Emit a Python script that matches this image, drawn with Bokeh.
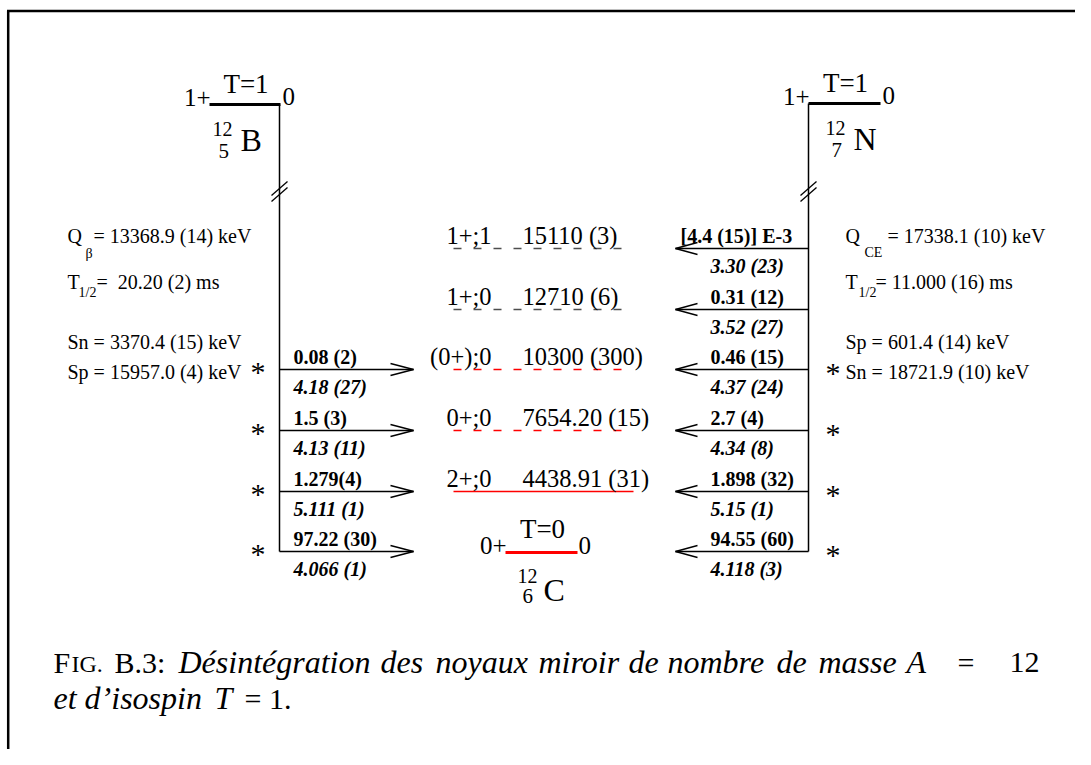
from bokeh.plotting import figure
from bokeh.models import Range1d, ColumnDataSource
from bokeh.core.properties import value
from bokeh.embed import file_html
from bokeh.resources import INLINE

# ---------------- data ----------------
# parent nuclei: spin, isospin, energy, A, Z, symbol
b_parent = ["1+", "T=1", "0", "12", "5", "B"]
n_parent = ["1+", "T=1", "0", "12", "7", "N"]
c_ground = ["0+", "T=0", "0", "12", "6", "C"]

# excited levels of 12C (top -> bottom), ground state last
level_jpi = ["1+;1", "1+;0", "(0+);0", "0+;0", "2+;0"]
level_energy = ["15110 (3)", "12710 (6)", "10300 (300)", "7654.20 (15)", "4438.91 (31)"]
level_kind = ["dash_gray", "dash_gray", "dash_red", "dash_red", "solid_red"]

# 12B beta- branches (feed levels 10300, 7654, 4438, g.s.)
b_branch_level = [2, 3, 4, 5]
b_intensity = ["0.08 (2)", "1.5 (3)", "1.279(4)", "97.22 (30)"]
b_logft = ["4.18 (27)", "4.13 (11)", "5.111 (1)", "4.066 (1)"]

# 12N EC/beta+ branches (feed all levels)
n_branch_level = [0, 1, 2, 3, 4, 5]
n_intensity = ["[4.4 (15)] E-3", "0.31 (12)", "0.46 (15)", "2.7 (4)", "1.898 (32)", "94.55 (60)"]
n_logft = ["3.30 (23)", "3.52 (27)", "4.37 (24)", "4.34 (8)", "5.15 (1)", "4.118 (3)"]

# decay properties
b_info = ["13368.9 (14) keV", "20.20 (2) ms", "Sn = 3370.4 (15) keV", "Sp = 15957.0 (4) keV"]
n_info = ["17338.1 (10) keV", "11.000 (16) ms", "Sp = 601.4 (14) keV", "Sn = 18721.9 (10) keV"]

caption_words = ["Désintégration", "des", "noyaux", "miroir", "de", "nombre", "de", "masse"]
caption_1 = ["F", "IG.", "B.3:", "A", "=", "12"]
caption_2 = ["et d’isospin", "T", "= 1."]

# ---------------- layout ----------------
ROW_Y = [248, 309, 369, 430, 491, 551]   # vertical positions of level rows
FONT = "Liberation Serif"
BLACK = "#000000"
RED = "#ff0000"
GRAY = "#4d4d4d"

p = figure(width=1075, height=749, output_backend="svg", toolbar_location=None,
           x_range=Range1d(0, 1075), y_range=Range1d(749, 0), min_border=0)
p.axis.visible = False
p.grid.visible = False
p.outline_line_color = None
p.background_fill_color = "white"
p.border_fill_color = "white"


def txt(x, b, s, size, style="normal", align="left", color=BLACK):
    """b = alphabetic baseline; converted to a middle anchor."""
    p.text(x=[x], y=[b - 0.34 * size], text=[s], text_font=value(FONT), text_font_size=f"{size}px",
           text_font_style=style, text_align=align, text_baseline="middle", text_color=color)


def seg(x0, y0, x1, y1, w=1.5, color=BLACK, dash="solid"):
    p.segment(x0=[x0], y0=[y0], x1=[x1], y1=[y1], line_width=w, line_color=color, line_dash=dash)


# page frame
seg(6.5, 10.5, 1075, 10.5, w=2.5)
seg(7.7, 10, 7.7, 749, w=2.5)

# ---------------- parent nuclei ----------------
def parent(lx0, lx1, ly, vx, labels, sym_x):
    spin, iso, e, a, z, sym = labels
    seg(lx0, ly, lx1, ly, w=3)
    txt(lx0 + 1, ly + 1, spin, 25, align="right")
    txt(lx1 + 2, ly, e, 25)
    txt((lx0 + lx1) / 2 + 1, ly - 11, iso, 27, align="center")
    txt(sym_x - 28, ly + 31, a, 20)
    txt(sym_x - 22, ly + 54, z, 21)
    txt(sym_x, ly + 46, sym, 32)
    # vertical decay line with break marks
    seg(vx, ly, vx, ROW_Y[-1], w=1.5)
    seg(vx - 8, 201, vx + 8, 187, w=1.3)
    seg(vx - 8, 195, vx + 8, 181, w=1.3)


parent(209, 280, 104, 279, b_parent, 240)
parent(808, 880, 103, 808, n_parent, 853)

# ---------------- 12C levels ----------------
styles = {"dash_gray": (GRAY, "8 12", 623, 1.6),
          "dash_red": (RED, "8 12", 623, 1.6),
          "solid_red": (RED, "solid", 633, 1.6)}
for i, (jpi, en, kind) in enumerate(zip(level_jpi, level_energy, level_kind)):
    y = ROW_Y[i]
    color, dash, xe, w = styles[kind]
    seg(453, y, xe, y, w=w, color=color, dash=dash)
    txt(491, y - 5, jpi, 24.5, align="right")
    txt(522, y - 5, en, 24.5)

# ground state of 12C
gy = ROW_Y[-1] + 1
seg(505, gy, 577, gy, w=3, color=RED)
txt(506, gy + 1, c_ground[0], 25, align="right")
txt(578, gy + 1, c_ground[2], 25)
txt(542, gy - 14, c_ground[1], 27, align="center")
txt(517, gy + 30, c_ground[3], 20)
txt(522, gy + 51, c_ground[4], 21)
txt(543, gy + 48, c_ground[5], 32)

# ---------------- branches ----------------
LBL = 20
# 12B side (arrows to the right)
src = ColumnDataSource(dict(y=[ROW_Y[k] for k in b_branch_level], inten=b_intensity, logft=b_logft))
p.segment(x0=279, y0="y", x1=413, y1="y", source=src, line_width=1.3, line_color=BLACK)
for k in b_branch_level:
    y = ROW_Y[k]
    seg(390, y - 6, 413, y, w=1.3)
    seg(390, y + 6, 413, y, w=1.3)
    txt(250, y + 12, "*", 30)
p.text(x=293, y="y", text="inten", source=src, text_font=value(FONT), text_font_size=f"{LBL}px",
       text_font_style="bold", y_offset=-6 - 0.34 * LBL, text_baseline="middle", text_color=BLACK)
p.text(x=293, y="y", text="logft", source=src, text_font=value(FONT), text_font_size=f"{LBL}px",
       text_font_style="bold italic", y_offset=24 - 0.34 * LBL, text_baseline="middle", text_color=BLACK)

# 12N side (arrows to the left)
for j, k in enumerate(n_branch_level):
    y = ROW_Y[k]
    seg(808, y, 675, y, w=1.3)
    seg(697, y - 6, 675, y, w=1.3)
    seg(697, y + 6, 675, y, w=1.3)
    lx = 680 if j == 0 else 710
    txt(lx, y - 6, n_intensity[j], LBL, style="bold")
    txt(710, y + 24, n_logft[j], LBL, style="bold italic")
    if k >= 2:
        txt(825, y + 13, "*", 30)

# ---------------- decay properties ----------------
INF = 20
# 12B
txt(67, 242, "Q", INF)
txt(85, 258, "β", 14)
txt(93, 242, "= " + b_info[0], INF)
txt(67, 288, "T", INF)
txt(78, 297, "1/2", 14)
txt(96, 288, "=\u00a0 " + b_info[1], INF)
txt(67, 348, b_info[2], INF)
txt(67, 378, b_info[3], INF)
# 12N
txt(845, 242, "Q", INF)
txt(864, 257, "CE", 14)
txt(887, 242, "= " + n_info[0], INF)
txt(845, 288, "T", INF)
txt(858, 297, "1/2", 14)
txt(875, 288, "= " + n_info[1], INF)
txt(845, 348, n_info[2], INF)
txt(845, 378, n_info[3], INF)

# ---------------- caption ----------------
CAP = 30
B1, B2 = 672, 708
txt(53, B1, caption_1[0], CAP)
txt(71, B1, caption_1[1], 24)
txt(114, B1, caption_1[2], CAP)
word_x = [178, 380, 435, 538, 628, 667, 776, 818]
for wx, w in zip(word_x, caption_words):
    txt(wx, B1, w, 32, style="italic")
txt(906, B1, caption_1[3], 32, style="italic")
txt(957, B1, caption_1[4], CAP)
txt(1009, B1, caption_1[5], CAP)
txt(53, B2, caption_2[0], 32, style="italic")
txt(214, B2, caption_2[1], 32, style="italic")
txt(244, B2, caption_2[2], CAP)

open("out.html", "w").write(file_html(p, INLINE))
